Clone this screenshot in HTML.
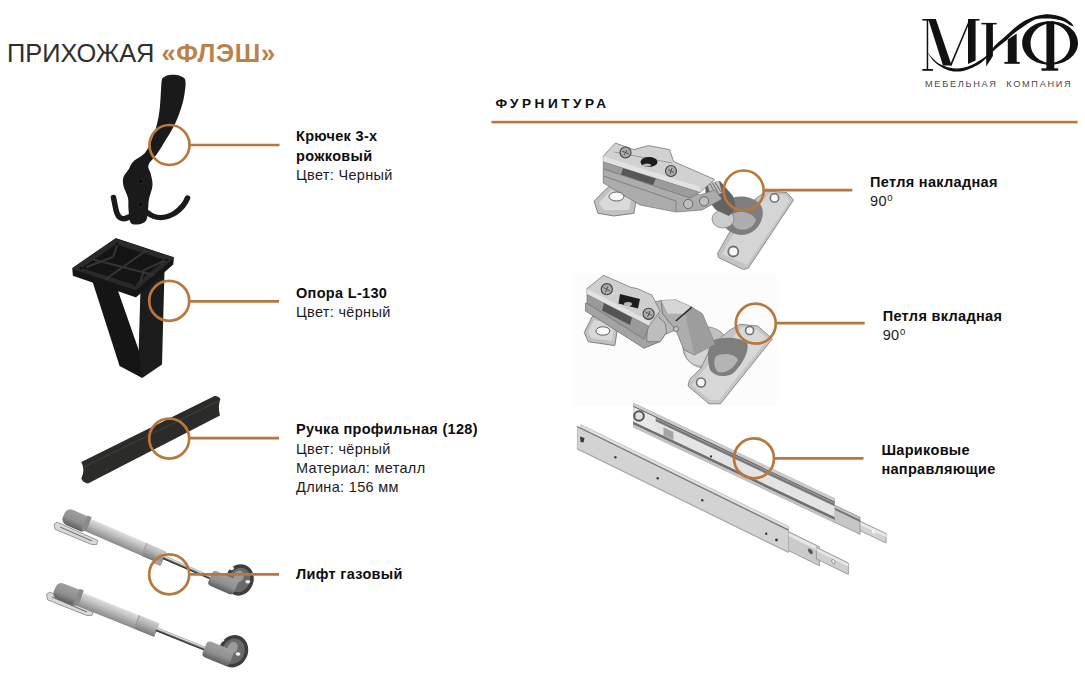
<!DOCTYPE html>
<html><head><meta charset="utf-8">
<style>
html,body{margin:0;padding:0;background:#fff;}
body{width:1085px;height:678px;position:relative;overflow:hidden;font-family:"Liberation Sans",sans-serif;color:#111;}
.t{position:absolute;white-space:nowrap;font-size:14.5px;line-height:19.3px;letter-spacing:0.32px;}
.t b{font-weight:bold;color:#0d0d0d;}
.t span{color:#1c1c1c;}
.deg{font-style:normal;font-size:9.5px;position:relative;top:-5px;margin-left:0.5px;}
svg{position:absolute;left:0;top:0;}
#title{position:absolute;left:7px;top:38.3px;font-size:25.4px;line-height:30px;color:#2e2e2e;white-space:nowrap;letter-spacing:0px;}
#title b{color:#b9824a;letter-spacing:0.65px;}
#furn{position:absolute;left:495.5px;top:94.3px;font-size:13.6px;line-height:20px;font-weight:bold;letter-spacing:3.5px;color:#0d0d0d;white-space:nowrap;}
#mk{position:absolute;left:925px;top:77px;font-size:9.2px;line-height:14px;letter-spacing:1.7px;color:#4a4a4a;white-space:nowrap;}
</style></head>
<body>
<svg width="1085" height="678" viewBox="0 0 1085 678">
  <!-- furnitura line -->
  <rect x="491.5" y="120.8" width="586" height="2.6" fill="#b8783d"/>

  <!-- logo placeholder -->
  <g id="logo" fill="#111">
    <rect x="922.4" y="19" width="10.5" height="1.6"/>
    <rect x="926.7" y="19.5" width="1.5" height="50"/>
    <rect x="922.4" y="69" width="10.6" height="1.8"/>
    <path d="M928.2,19.1 L935.8,19.1 L951.7,65.6 L943,65.6 Z"/>
    <path d="M949.8,65.6 L969.2,19.6 L970.8,19.6 L951.6,65.6 Z"/>
    <rect x="968" y="19" width="11.5" height="1.6"/>
    <path d="M968,19.5 L975.6,19.5 L975.6,60.5 L968,64 Z"/>
    <rect x="981.4" y="22.9" width="15.3" height="1.5"/>
    <path d="M986.2,23.4 L992.9,23.4 L992.9,56 L986.2,66.6 Z"/>
    <path d="M1007.8,39.6 L1016,34 L1016.7,34 L1016.7,62.3 L1007.8,62.3 Z"/>
    <rect x="1004.4" y="61.9" width="15.3" height="1.9"/>
    <rect x="1046.4" y="21.5" width="7.9" height="48"/>
    <rect x="1041.4" y="68.3" width="16.8" height="2.4"/>
    <path fill-rule="evenodd" d="M1050.1,21.3 C1066,21.3 1078,31 1078,43 C1078,55 1066,64.8 1050.1,64.8 C1034,64.8 1022.2,55 1022.2,43 C1022.2,31 1034,21.3 1050.1,21.3 Z M1050.3,23.8 C1040,23.8 1030.6,32 1030.6,43.3 C1030.6,55 1040,62.8 1050.3,62.8 C1061,62.8 1070.1,55 1070.1,43.3 C1070.1,32 1061,23.8 1050.3,23.8 Z"/>
    <path d="M927.5,52.5 C928.6,53.7 932.0,57.6 934.0,59.5 C936.0,61.4 936.7,62.4 939.2,63.7 C941.7,65.0 945.6,66.7 948.8,67.5 C952.0,68.3 955.2,68.7 958.4,68.5 C961.6,68.3 964.8,67.7 968.0,66.6 C971.2,65.5 974.4,63.7 977.6,61.8 C980.8,59.9 984.2,57.8 987.1,55.1 C990.0,52.4 992.0,48.6 995.0,45.5 C998.0,42.4 1001.6,39.7 1004.9,36.7 C1008.2,33.8 1011.5,30.5 1014.8,27.8 C1018.1,25.1 1021.3,22.7 1024.6,20.8 C1027.9,18.9 1031.2,17.5 1034.5,16.4 C1037.8,15.3 1041.1,14.7 1044.4,14.4 C1047.7,14.2 1051.0,14.3 1054.3,14.9 C1057.6,15.5 1061.4,16.6 1064.2,17.9 C1067.0,19.2 1069.5,21.4 1071.1,22.8 C1072.7,24.2 1073.3,25.9 1073.8,26.5 L1073.8,26.5 C1073.2,26.3 1071.7,26.0 1070.1,25.2 C1068.5,24.4 1066.8,22.5 1064.2,21.5 C1061.6,20.5 1057.6,19.5 1054.3,19.0 C1051.0,18.5 1047.7,18.4 1044.4,18.5 C1041.1,18.6 1037.8,18.6 1034.5,19.8 C1031.2,21.0 1027.9,23.6 1024.6,25.8 C1021.3,28.0 1018.1,30.1 1014.8,32.7 C1011.5,35.3 1008.2,38.8 1004.9,41.6 C1001.6,44.4 998.8,46.1 995.0,49.5 C991.2,52.9 986.1,58.8 982.4,61.8 C978.7,64.8 976.0,66.0 972.8,67.5 C969.6,69.0 966.4,70.2 963.2,70.9 C960.0,71.6 956.8,71.8 953.6,71.4 C950.4,71.0 947.2,70.1 944.0,68.5 C940.8,66.9 937.1,64.5 934.4,61.8 C931.6,59.1 928.6,54.0 927.5,52.5 Z"/>
  </g>

  <!-- products placeholder -->
  <g id="products">
  <defs>
    <linearGradient id="metal1" x1="0" y1="0" x2="0" y2="1">
      <stop offset="0" stop-color="#e4e4e4"/><stop offset="0.45" stop-color="#b4b4b4"/><stop offset="1" stop-color="#7c7c7c"/>
    </linearGradient>
    <linearGradient id="metal2" x1="0" y1="0" x2="1" y2="1">
      <stop offset="0" stop-color="#d8d8d8"/><stop offset="0.5" stop-color="#a9a9a9"/><stop offset="1" stop-color="#cfcfcf"/>
    </linearGradient>
    <linearGradient id="cyl" x1="0" y1="0" x2="0" y2="1">
      <stop offset="0" stop-color="#dedede"/><stop offset="0.35" stop-color="#c4c4c4"/><stop offset="1" stop-color="#8a8a8a"/>
    </linearGradient>
    <linearGradient id="rod" x1="0" y1="0" x2="0" y2="1">
      <stop offset="0" stop-color="#9a9a9a"/><stop offset="0.3" stop-color="#e8e8e8"/><stop offset="0.65" stop-color="#555"/><stop offset="1" stop-color="#222"/>
    </linearGradient>
    <linearGradient id="cyl2" x1="0" y1="0" x2="0" y2="1">
      <stop offset="0" stop-color="#d0d0d0"/><stop offset="0.4" stop-color="#b4b4b4"/><stop offset="1" stop-color="#7a7a7a"/>
    </linearGradient>
    <linearGradient id="cap" x1="0" y1="0" x2="0" y2="1">
      <stop offset="0" stop-color="#a0a0a0"/><stop offset="0.55" stop-color="#909090"/><stop offset="1" stop-color="#5e5e5e"/>
    </linearGradient>
    <linearGradient id="slide" x1="0" y1="0" x2="0" y2="1">
      <stop offset="0" stop-color="#f2f2f2"/><stop offset="0.3" stop-color="#dcdcdc"/><stop offset="1" stop-color="#c4c4c4"/>
    </linearGradient>
  </defs>

  <!-- HOOK -->
  <g fill="#1a1a1a">
    <path d="M185.0,78.9 C185.1,79.9 185.8,81.4 185.6,84.8 C185.3,88.2 184.6,94.6 183.5,99.5 C182.4,104.4 180.7,109.6 179.0,114.3 C177.3,119.0 175.5,122.9 173.1,127.6 C170.7,132.3 167.0,137.9 164.3,142.3 C161.6,146.7 159.5,150.3 156.9,154.1 C154.3,157.9 149.5,161.7 148.5,165.0 C147.5,168.3 150.0,170.4 150.7,173.8 C151.4,177.2 152.8,181.3 152.5,185.5 C152.2,189.7 149.8,194.9 149.0,199.0 C148.2,203.1 148.5,206.3 148.0,210.0 C147.5,213.7 147.6,218.6 145.8,221.0 C144.1,223.4 140.1,224.3 137.5,224.5 C134.9,224.7 131.9,224.8 130.4,222.2 C128.9,219.6 128.9,213.2 128.5,209.2 C128.1,205.2 128.8,201.9 128.0,198.0 C127.2,194.1 124.2,189.5 123.5,186.0 C122.8,182.5 122.6,179.8 123.5,177.0 C124.4,174.2 127.3,171.5 128.9,168.9 C130.5,166.3 130.6,164.2 133.3,161.5 C136.0,158.8 142.0,156.4 145.1,152.7 C148.2,149.0 149.7,144.1 151.7,139.4 C153.7,134.7 155.5,130.0 156.9,124.6 C158.3,119.2 159.2,113.5 159.9,106.9 C160.6,100.3 161.0,89.5 161.3,84.8 C161.7,80.1 161.9,79.9 162.0,78.9 C165,73.5 180,73 185,78.9 Z"/>
  </g>
  <g fill="none" stroke="#1a1a1a" stroke-width="5.5" stroke-linecap="round">
    <path d="M129,217 C122,221 118,218 116,210 C115,205 114,200 113.5,197.5"/>
    <path d="M148,213 C155,219 165,219 175,213 C182,208 186,202 187.5,198"/>
  </g>
  <g fill="#0c0c0c" stroke="#303030" stroke-width="0.8"><circle cx="140.7" cy="181.3" r="2.6"/><circle cx="140.7" cy="204.3" r="2.6"/></g>

  <!-- LEG -->
  <path d="M92,280 L117,288 L138.7,350 L142,360 L142.2,378 L119.6,366 Z" fill="#151515"/>
  <path d="M140.5,288 L164.5,271 L162,364.6 L142.2,378 L138.7,350 Z" fill="#1c1c1c"/>
  <path d="M73.3,268.5 L115.9,239.2 L172.9,258 L172.3,264.1 L135.8,296.2 L73.8,275.1 Z" fill="#161616" stroke="#161616" stroke-width="2" stroke-linejoin="round"/>
  <path d="M73.3,268.5 L115.9,239.2 L172.9,258 L135.8,289.5 Z" fill="#2a2a2a" stroke="#2a2a2a" stroke-width="1.5" stroke-linejoin="round"/>
  <path d="M81.5,268 L116,244.3 L165.5,260 L134.5,285 Z" fill="#141414"/>
  <g stroke="#343434" stroke-width="2" fill="none" stroke-linecap="round">
    <path d="M93.5,259.5 L153.5,275"/>
    <path d="M145.5,251 L106,279"/>
    <path d="M117,246 L113,257 L87,267"/>
    <path d="M164,261 L144,270 L140,283"/>
  </g>
  <g fill="#0a0a0a">
    <circle cx="80.5" cy="268.3" r="1.1"/><circle cx="117" cy="243.5" r="1.1"/><circle cx="166.5" cy="260" r="1.1"/><circle cx="134.5" cy="285.5" r="1.1"/>
  </g>

  <!-- HANDLE -->
  <path d="M81.3,462.1 L214.5,396.1 Q218.5,396 220.4,399 Q217.5,407 220,415.5 L88,483.5 Q82.5,482.5 81.3,478.5 Q85.5,470 81.3,462.1 Z" fill="#2b2b29"/>
  <path d="M83,467.5 L219.7,400.5" stroke="#3d3d3b" stroke-width="1.3"/>

  <!-- GAS LIFT 1 -->
  <g>
    <path d="M54.1,524.2 L57.2,522.2 L97.7,540.4 L96.7,544.5 L91.6,544.5 L55.1,529.3 Z" fill="#d9d9d9" stroke="#8c8c8c" stroke-width="0.9" stroke-linejoin="round"/>
    <path d="M60,527 L92,541" stroke="#7a7a7a" stroke-width="1.2"/>
    <g transform="translate(86.9,524.5) rotate(23.5)">
      <rect x="0" y="-6.85" width="84" height="13.7" fill="url(#cyl)"/>
      <rect x="62" y="-6.85" width="22" height="13.7" fill="url(#cyl2)"/>
      <rect x="62" y="-6.85" width="1" height="13.7" fill="#9a9a9a"/>
      <rect x="76" y="4" width="8" height="5" fill="#a5a5a5"/>
      <rect x="83" y="-2.6" width="52" height="4" fill="url(#rod)"/>
      <rect x="-25" y="-7.8" width="27" height="16.5" rx="6" fill="url(#cap)"/>
      <rect x="-3" y="-8.5" width="4.5" height="15.5" fill="#8b8b8b"/>
      <ellipse cx="162" cy="-10" rx="14" ry="16" fill="#3e3e3e"/>
      <ellipse cx="162" cy="-10" rx="10.5" ry="12.5" fill="#6a6a6a"/>
      <ellipse cx="160" cy="-13" rx="5" ry="6" fill="#9a9a9a"/>
      <rect x="134" y="-9" width="28" height="16" rx="4" fill="url(#cap)"/>
    </g>
    <ellipse cx="231.6" cy="568.4" rx="2.4" ry="1.8" fill="#f4f4f4"/>
    <ellipse cx="247.8" cy="581.7" rx="2.4" ry="1.8" fill="#f4f4f4"/>
  </g>

  <!-- GAS LIFT 2 -->
  <g>
    <path d="M46.6,594.3 L50,592.1 L93.1,612 L92,615.4 L86.5,615.4 L47.7,599.9 Z" fill="#d9d9d9" stroke="#8c8c8c" stroke-width="0.9" stroke-linejoin="round"/>
    <path d="M52,597 L87,612" stroke="#7a7a7a" stroke-width="1.2"/>
    <g transform="translate(77,598) rotate(21.9)">
      <rect x="0" y="-7.2" width="86" height="14.4" fill="url(#cyl)"/>
      <rect x="64" y="-7.2" width="22" height="14.4" fill="url(#cyl2)"/>
      <rect x="64" y="-7.2" width="1" height="14.4" fill="#9a9a9a"/>
      <rect x="85" y="-2.6" width="53" height="4" fill="url(#rod)"/>
      <rect x="-24" y="-8.5" width="28" height="17" rx="6" fill="url(#cap)"/>
      <rect x="-1" y="-9.5" width="4.5" height="17" fill="#8b8b8b"/>
      <ellipse cx="165" cy="-9" rx="14.5" ry="16.5" fill="#3e3e3e"/>
      <ellipse cx="165" cy="-9" rx="11" ry="13" fill="#6a6a6a"/>
      <ellipse cx="163" cy="-12" rx="5" ry="6" fill="#9a9a9a"/>
      <rect x="137" y="-9.5" width="29" height="17" rx="4" fill="url(#cap)"/>
    </g>
    <ellipse cx="222" cy="640" rx="2.4" ry="1.8" fill="#f4f4f4"/>
    <ellipse cx="238" cy="654" rx="2.4" ry="1.8" fill="#f4f4f4"/>
  </g>

  <rect x="574" y="273.5" width="203" height="132" fill="#fcfcfc"/>
  <g style="filter:brightness(0.95) contrast(1.08)">
  <!-- HINGE 1 -->
  <g stroke-linejoin="round">
    <!-- right plate -->
    <path d="M766,191 L787,192.6 L793.5,200 L748.4,268 L743.5,269.6 L718.4,257.5 L717.6,253.4 L728,235 L745,207 Z" fill="#c8c8c8" stroke="#8a8a8a" stroke-width="0.9"/>
    <path d="M769,194 L786,195.5 L790,201 L747,265 L722,254 L731,238 Z" fill="#dadada"/>
    <!-- cup recess -->
    <path d="M728,200 C738,194 752,196 760,204 C766,212 762,226 752,232 C742,238 730,234 724,226 C719,218 720,206 728,200 Z" fill="#858585"/>
    <path d="M733,214 C740,210 752,212 756,220 C754,228 744,232 736,228 C731,224 730,218 733,214 Z" fill="#b4b4b4"/>
    <!-- joint disc -->
    <ellipse cx="723" cy="219" rx="11" ry="9" fill="#d0d0d0" stroke="#8a8a8a" stroke-width="0.8"/>
    <!-- knuckle link -->
    <path d="M705,184 L720,181 L733,196 L736,208 L729,216 L716,210 L706,198 Z" fill="#6a6a6a"/>
    <path d="M707,183 L719,181 L722,193 L711,196 Z" fill="#c4c4c4"/>
    <path d="M710,184 L716,194 M712.5,183.2 L718.5,193 M715,182.5 L721,192" stroke="#555" stroke-width="0.7"/>
    <!-- foot tab -->
    <path d="M594,201.3 L609.9,185.4 L637.8,190.7 L633.8,213.3 L613.9,216 L598,213.3 Z" fill="#c6c6c6" stroke="#7d7d7d" stroke-width="0.9"/>
    <path d="M599,203 L611,190 L632,194 L629,210 L604,210 Z" fill="#dedede"/>
    <!-- base plate -->
    <path d="M603.3,168.8 L700,195 L715,190 L722,199 L702,210 L676,212 L640,205 L603.3,183 Z" fill="#b2b2b2" stroke="#7a7a7a" stroke-width="0.7"/>
    <path d="M603.3,176 L676,201 L676,211" fill="none" stroke="#7a7a7a" stroke-width="0.8"/>
    <!-- side face -->
    <path d="M603.3,161.5 L700.1,192.1 L690,198 L603.3,168.8 Z" fill="#a2a2a2" stroke="#6e6e6e" stroke-width="0.6"/>
    <path d="M623,168 L656,178.5 L653,185 L621,174.5 Z" fill="#5e5e5e"/>
    <!-- top face with bracket -->
    <path d="M603.3,156.2 L615.2,143 L633.8,149.6 L648.4,145.6 L669.6,149.6 L673.6,161.5 L714.7,179.5 L700.1,192.1 L603.3,161.5 Z" fill="#d6d6d6" stroke="#808080" stroke-width="0.8"/>
    <path d="M603.3,156.2 L700.1,187 L700.1,192.1 L603.3,161.5 Z" fill="#e6e6e6"/>
    <path d="M614,152 L672,163" stroke="#8a8a8a" stroke-width="0.7"/>
  </g>
  <ellipse cx="649" cy="162" rx="8.5" ry="5" fill="#262626"/>
  <ellipse cx="647" cy="165" rx="4" ry="1.6" fill="#bbb"/>
  <circle cx="625.5" cy="152.5" r="5.5" fill="#b0b0b0" stroke="#4a4a4a" stroke-width="1.1"/>
  <circle cx="671" cy="171" r="5.5" fill="#b0b0b0" stroke="#4a4a4a" stroke-width="1.1"/>
  <path d="M622,151 L629,154 M624,155 L627,150 M668,169.5 L674,172.5 M670,174 L672,168" stroke="#555" stroke-width="0.9"/>
  <ellipse cx="616.5" cy="196.5" rx="7.5" ry="4.5" fill="#fff" stroke="#666" stroke-width="1"/>
  <circle cx="688.2" cy="204" r="4.6" fill="#c4c4c4" stroke="#666" stroke-width="0.9"/>
  <circle cx="704.1" cy="201.3" r="4.6" fill="#c4c4c4" stroke="#666" stroke-width="0.9"/>
  <circle cx="774.5" cy="198" r="4.2" fill="#fff" stroke="#777" stroke-width="1.6"/>
  <circle cx="733.3" cy="251.5" r="5" fill="#fff" stroke="#777" stroke-width="1.8"/>

  <!-- HINGE 2 -->
  <g stroke-linejoin="round">
    <!-- cup disk -->
    <ellipse cx="705.7" cy="347.4" rx="22.7" ry="20.7" fill="#c4c4c4" stroke="#8a8a8a" stroke-width="0.8"/>
    <ellipse cx="700" cy="352" rx="14" ry="13" fill="#d8d8d8"/>
    <!-- plate -->
    <path d="M739.9,324.3 L757.7,326 L772.3,338.9 L720.4,403.8 L709,403.8 L688,386 L689.6,379.5 L701,368.1 L712,345 L730,330 Z" fill="#cbcbcb" stroke="#8a8a8a" stroke-width="0.9"/>
    <path d="M742,327 L756,329 L768,339 L719,400 L710,400 L692,385 L702,372 Z" fill="#dcdcdc"/>
    <path d="M712,341 C722,336 740,337 747,343 C750,350 742,366 732,374 C724,378 714,376 710,370 C707,360 707,347 712,341 Z" fill="#858585"/>
    <path d="M716,356 C724,352 736,354 738,360 C734,368 726,374 718,372 C714,368 713,361 716,356 Z" fill="#b9b9b9"/>
    <path d="M654,302 L661.3,300.5 L662.6,313.8 L675.8,329.7 L666.6,334 L658,314 Z" fill="#bdbdbd" stroke="#7a7a7a" stroke-width="0.7"/>
    <!-- knuckle box -->
    <path d="M661.3,300.5 L675.8,299.9 L691.8,307.2 L702.4,313.8 L715,344.3 L694.4,354.9 L683.8,349.6 L675.8,329.7 L662.6,313.8 Z" fill="#b4b4b4" stroke="#7a7a7a" stroke-width="0.8"/>
    <path d="M661.3,300.5 L675.8,299.9 L691.8,307.2 L685.1,313.8 L667.9,313.8 Z" fill="#dadada"/>
    <path d="M685.1,313.8 L691.8,307.2 L702.4,313.8 L715,344.3 L694.4,354.9 Z" fill="#a3a3a3"/>
    <path d="M675.8,321 L691.8,307.2" stroke="#333" stroke-width="1.6"/>
    <!-- foot tab -->
    <path d="M584.3,332.4 L592.3,316.4 L618.8,320.4 L614.8,345.6 L588.3,341.7 Z" fill="#c6c6c6" stroke="#7d7d7d" stroke-width="0.9"/>
    <path d="M588,332 L594,320 L615,323 L612,341 L591,338 Z" fill="#dcdcdc"/>
    <!-- base -->
    <path d="M585.6,303 L656,334 L666.6,332.4 L660,341.7 L644,348.3 L585.6,311.1 Z" fill="#a9a9a9" stroke="#777" stroke-width="0.8"/>
    <!-- elbow -->
    <path d="M648,312 L654.6,313.8 L665.2,323.1 L666.6,332.4 L660,341.7 L646.7,341.7 Z" fill="#c2c2c2" stroke="#7a7a7a" stroke-width="0.8"/>
    <!-- side face -->
    <path d="M587,293.9 L649.3,325.7 L644,339 L587,303.2 Z" fill="#a0a0a0" stroke="#6e6e6e" stroke-width="0.6"/>
    <path d="M604,303 L632,317.5 L630,325 L602,310.5 Z" fill="#5c5c5c"/>
    <!-- top face -->
    <path d="M587,288.6 L600.2,278 L603.5,275.3 L618.8,282 L630.7,287.3 L637.4,288.6 L652,295.2 L656,303.2 L660,311.1 L649.3,325.7 L587,293.9 Z" fill="#d4d4d4" stroke="#808080" stroke-width="0.8"/>
    <path d="M587,289 L649.3,321 L649.3,325.7 L587,293.9 Z" fill="#e6e6e6"/>
  </g>
  <path d="M620,294 L640,299 L638,308.5 L618.5,303.5 Z" fill="#262626"/>
  <ellipse cx="628" cy="304" rx="4" ry="2" fill="#bbb"/>
  <circle cx="606.8" cy="289.2" r="5.6" fill="#b0b0b0" stroke="#4a4a4a" stroke-width="1.1"/>
  <circle cx="648.6" cy="313.8" r="5.6" fill="#b0b0b0" stroke="#4a4a4a" stroke-width="1.1"/>
  <path d="M603.5,287.5 L610,291 M605.5,292.5 L608,286 M645.5,312 L652,315.5 M647.5,317 L650,311" stroke="#555" stroke-width="0.9"/>
  <ellipse cx="602.9" cy="331" rx="7" ry="4.2" fill="#fff" stroke="#666" stroke-width="1"/>
  <circle cx="749.6" cy="330.5" r="4" fill="#fff" stroke="#777" stroke-width="1.6"/>
  <circle cx="701" cy="382.5" r="4.5" fill="#fff" stroke="#777" stroke-width="1.7"/>
  <circle cx="676" cy="329" r="2.5" fill="#ccc" stroke="#666" stroke-width="0.8"/>

  </g>
  <!-- SLIDES -->
  <g transform="matrix(1,0.475,0,1,633.5,403.1)">
    <rect x="222" y="10.5" width="30.5" height="9.5" fill="#d2d2d2" stroke="#8a8a8a" stroke-width="0.7"/>
    <rect x="222" y="11.5" width="30.5" height="2.5" fill="#ececec"/>
    <rect x="200" y="6.6" width="26.5" height="17" fill="#c6c6c6" stroke="#8a8a8a" stroke-width="0.7"/>
    <rect x="200" y="9" width="26.5" height="2.2" fill="#777"/>
    <rect x="0" y="0" width="201" height="24" fill="#dedede" stroke="#9a9a9a" stroke-width="0.6"/>
    <rect x="0" y="0" width="201" height="3" fill="#cbcbcb"/>
    <rect x="0" y="3" width="201" height="1.2" fill="#5a5a5a"/>
    <rect x="22" y="4.2" width="179" height="3.8" fill="#8e8e8e"/>
    <rect x="22" y="5.6" width="179" height="1" fill="#6a6a6a"/>
    <rect x="22" y="8" width="179" height="10.5" fill="#e4e4e4"/>
    <rect x="0" y="18.5" width="201" height="3" fill="#707070"/>
    <rect x="0" y="21.5" width="201" height="2.5" fill="#c2c2c2"/>
    <rect x="0" y="4" width="22" height="14.5" fill="#e8e8e8"/>
    <rect x="30" y="10" width="10" height="8" fill="#a5a5a5"/>
    <circle cx="240" cy="15" r="1.6" fill="#f4f4f4"/>
  </g>
  <circle cx="639" cy="416" r="4.8" fill="#e0e0e0" stroke="#555" stroke-width="2"/>
  <circle cx="711" cy="456.4" r="1.1" fill="#333"/>
  <g transform="matrix(1,0.49,0,1,577.4,426.2)">
    <rect x="210" y="2" width="32" height="19" fill="#cacaca" stroke="#8a8a8a" stroke-width="0.7"/>
    <rect x="210" y="3" width="32" height="3.5" fill="#e6e6e6"/>
    <rect x="239" y="4" width="32" height="11.5" fill="#cfcfcf" stroke="#8a8a8a" stroke-width="0.7"/>
    <rect x="239" y="5" width="32" height="2.5" fill="#e8e8e8"/>
    <circle cx="233" cy="11" r="2.4" fill="#555"/>
    <circle cx="256" cy="10" r="1.8" fill="#f4f4f4" stroke="#666" stroke-width="0.6"/>
    <rect x="3.5" y="-3.3" width="208" height="3.3" fill="#e2e2e2" stroke="#a5a5a5" stroke-width="0.5"/>
    <rect x="0" y="0" width="211" height="23" fill="#d3d3d3" stroke="#a0a0a0" stroke-width="0.6"/>
    <rect x="0" y="0" width="211" height="1.1" fill="#6e6e6e"/>
    <rect x="0" y="22" width="211" height="1" fill="#a8a8a8"/>
  </g>
  <g fill="#3a3a3a">
    <circle cx="615.4" cy="457.2" r="1.2"/><circle cx="657.7" cy="478.3" r="1.2"/><circle cx="702.3" cy="500.3" r="1.2"/><circle cx="766.2" cy="533.8" r="1.2"/>
    <path d="M580,436.5 L584.5,438 L583.5,442.5 L580.5,442 Z"/>
    <circle cx="776.5" cy="540" r="1.4"/>
  </g>
</g>

  <!-- callouts -->
  <g fill="none" stroke="#b8783d" stroke-width="2.7">
    <circle cx="169.5" cy="145" r="20"/>
    <line x1="189.5" y1="145" x2="279.5" y2="145"/>
    <circle cx="169.2" cy="300.9" r="20"/>
    <line x1="189.2" y1="301.3" x2="279" y2="301.3"/>
    <circle cx="169.2" cy="438.6" r="20"/>
    <line x1="189.2" y1="438.2" x2="279" y2="438.2"/>
    <circle cx="169.2" cy="574.4" r="20"/>
    <line x1="189.2" y1="574.3" x2="279" y2="574.3"/>
    <circle cx="743.7" cy="190.5" r="20"/>
    <line x1="763.7" y1="190.2" x2="852.3" y2="190.2"/>
    <circle cx="755.8" cy="323.7" r="20"/>
    <line x1="775.8" y1="323.2" x2="864.7" y2="323.2"/>
    <circle cx="754" cy="458.4" r="20"/>
    <line x1="774" y1="458.4" x2="863.5" y2="458.4"/>
  </g>
</svg>

<div id="title">ПРИХОЖАЯ <b>«ФЛЭШ»</b></div>
<div id="furn">ФУРНИТУРА</div>
<div id="mk">МЕБЕЛЬНАЯ&nbsp; КОМПАНИЯ</div>

<div class="t" style="left:296px;top:127.4px;"><b>Крючек 3-х<br>рожковый</b><br><span>Цвет: Черный</span></div>
<div class="t" style="left:296px;top:283.6px;"><b>Опора L-130</b><br><span>Цвет: чёрный</span></div>
<div class="t" style="left:296px;top:420.3px;"><b>Ручка профильная (128)</b><br><span>Цвет: чёрный<br>Материал: металл<br>Длина: 156 мм</span></div>
<div class="t" style="left:296px;top:565.4px;"><b>Лифт газовый</b></div>
<div class="t" style="left:870px;top:173.0px;"><b>Петля накладная</b><br><span>90<i class="deg">0</i></span></div>
<div class="t" style="left:882.7px;top:306.9px;"><b>Петля вкладная</b><br><span>90<i class="deg">0</i></span></div>
<div class="t" style="left:881.4px;top:440.8px;"><b>Шариковые<br>направляющие</b></div>

</body></html>
